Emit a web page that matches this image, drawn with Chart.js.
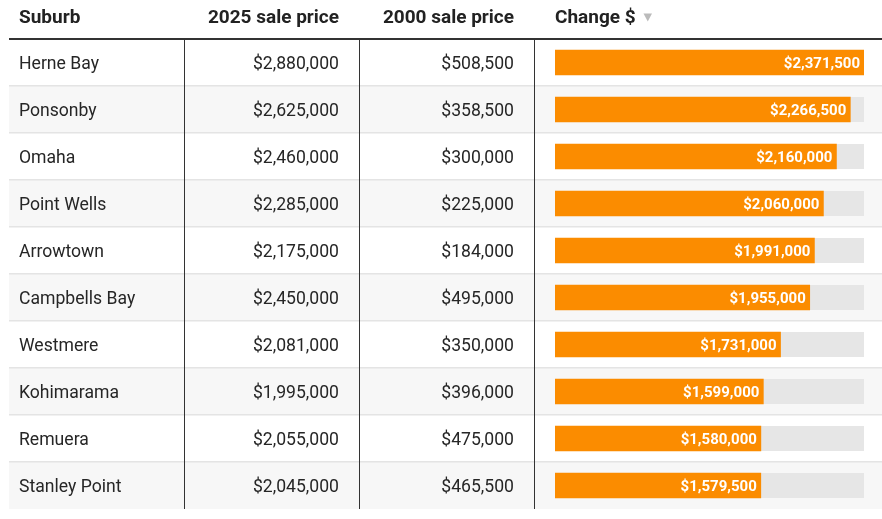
<!DOCTYPE html>
<html>
<head>
<meta charset="utf-8">
<script src="https://cdn.jsdelivr.net/npm/chart.js@4.4.1/dist/chart.umd.min.js"></script>
<style>
html,body{margin:0;padding:0;background:#fff;}
#wrap{width:882px;height:519px;position:relative;}
</style>
</head>
<body>
<div id="wrap"><canvas id="c" width="882" height="519"></canvas></div>
<script>
const suburbs = ["Herne Bay","Ponsonby","Omaha","Point Wells","Arrowtown","Campbells Bay","Westmere","Kohimarama","Remuera","Stanley Point"];
const price2025 = [2880000,2625000,2460000,2285000,2175000,2450000,2081000,1995000,2055000,2045000];
const price2000 = [508500,358500,300000,225000,184000,495000,350000,396000,475000,465500];
const changeValues = [2371500,2266500,2160000,2060000,1991000,1955000,1731000,1599000,1580000,1579500];
const headers = ["Suburb","2025 sale price","2000 sale price","Change $"];

const fmt = v => "$" + v.toLocaleString("en-US");
const FONT = "Roboto, 'Liberation Sans', sans-serif";
const ORANGE = "#fb8c00";
const TRACK = "#e6e6e6";

const tablePlugin = {
  id: "tablePlugin",
  beforeDraw(chart) {
    const ctx = chart.ctx;
    const y = chart.scales.y;
    const rowH = y.getPixelForValue(1) - y.getPixelForValue(0);
    ctx.save();
    suburbs.forEach((s, i) => {
      const cy = y.getPixelForValue(i);
      const top = cy - rowH / 2;
      if (i % 2 === 1) {
        ctx.fillStyle = "#f7f7f7";
        ctx.fillRect(9, top, 882 - 9, rowH);
      }
      if (i > 0) {
        ctx.fillStyle = "#e4e4e4";
        ctx.fillRect(9, Math.round(top) - 1, 882 - 9, 1.5);
      }
    });
    ctx.restore();
  },
  beforeDatasetsDraw(chart) {
    const ctx = chart.ctx;
    const y = chart.scales.y;
    const x = chart.scales.x;
    const ca = chart.chartArea;
    ctx.save();
    ctx.fillStyle = TRACK;
    suburbs.forEach((s, i) => {
      const cy = y.getPixelForValue(i);
      ctx.fillRect(x.getPixelForValue(0), cy - 12.5, ca.right - x.getPixelForValue(0), 25);
    });
    ctx.restore();
  },
  afterDraw(chart) {
    const ctx = chart.ctx;
    const y = chart.scales.y;
    const x = chart.scales.x;
    const rowH = y.getPixelForValue(1) - y.getPixelForValue(0);
    ctx.save();
    // header
    ctx.fillStyle = "#222";
    ctx.font = "bold 19px " + FONT;
    ctx.textBaseline = "middle";
    ctx.textAlign = "left";
    ctx.fillText(headers[0], 19, 18.5);
    ctx.textAlign = "right";
    ctx.fillText(headers[1], 339, 18.5);
    ctx.fillText(headers[2], 514, 18.5);
    ctx.textAlign = "left";
    ctx.fillText(headers[3], 555, 18.5);
    // sort triangle
    ctx.fillStyle = "#bbbbbb";
    ctx.beginPath();
    ctx.moveTo(643.5, 13.5);
    ctx.lineTo(652, 13.5);
    ctx.lineTo(647.75, 21.5);
    ctx.closePath();
    ctx.fill();
    // header line
    ctx.fillStyle = "#333";
    ctx.fillRect(9, 38, 882 - 9, 2);
    // column dividers
    const bottom = y.getPixelForValue(suburbs.length - 1) + rowH / 2;
    ctx.fillStyle = "#333";
    [184, 359, 534].forEach(cx => ctx.fillRect(cx, 40, 1, bottom - 40));
    // body text
    ctx.font = "17.6px " + FONT;
    ctx.fillStyle = "#262626";
    suburbs.forEach((s, i) => {
      const cy = y.getPixelForValue(i) + 2.5;
      ctx.textAlign = "left";
      ctx.fillText(s, 19, cy);
      ctx.textAlign = "right";
      ctx.fillText(fmt(price2025[i]), 339, cy);
      ctx.fillText(fmt(price2000[i]), 514, cy);
    });
    // bar labels
    ctx.font = "bold 15px " + FONT;
    ctx.fillStyle = "#ffffff";
    ctx.textAlign = "right";
    changeValues.forEach((v, i) => {
      const cy = y.getPixelForValue(i) + 2;
      ctx.fillText(fmt(v), x.getPixelForValue(v) - 4, cy);
    });
    ctx.restore();
  }
};

new Chart(document.getElementById("c"), {
  type: "bar",
  data: {
    labels: suburbs,
    datasets: [{
      data: changeValues,
      backgroundColor: ORANGE,
      borderWidth: 0,
      barThickness: 25
    }]
  },
  options: {
    indexAxis: "y",
    responsive: false,
    animation: false,
    events: [],
    layout: { padding: { left: 555, right: 18, top: 39, bottom: 10 } },
    plugins: { legend: { display: false }, tooltip: { enabled: false } },
    scales: {
      x: { display: false, min: 0, max: Math.max(...changeValues) },
      y: { display: false }
    }
  },
  plugins: [tablePlugin]
});
</script>
</body>
</html>
